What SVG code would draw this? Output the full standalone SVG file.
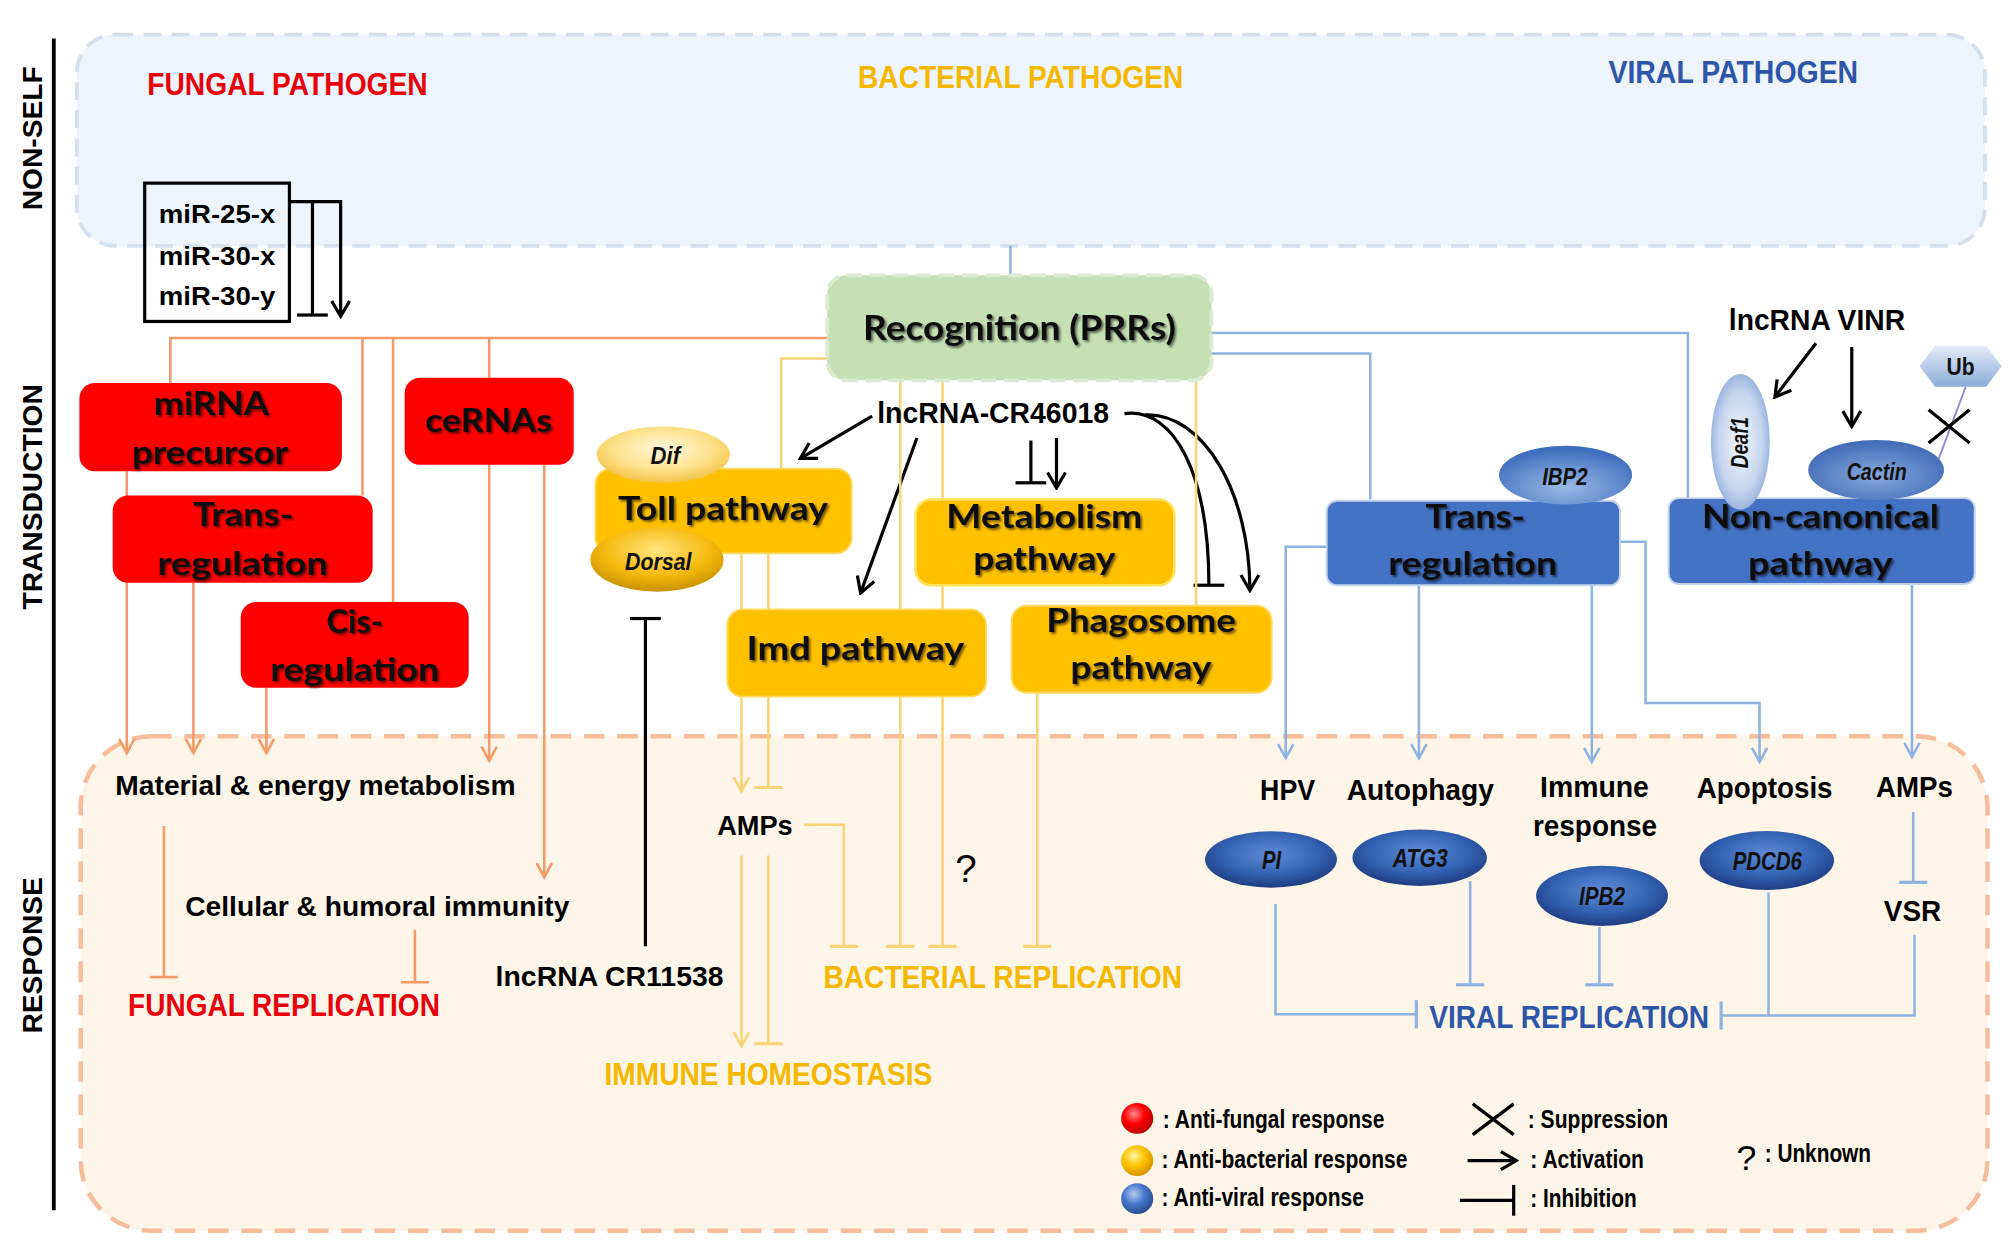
<svg xmlns="http://www.w3.org/2000/svg" width="2008" height="1241" viewBox="0 0 2008 1241">
<defs>
<style>
.t{font-family:"Liberation Sans",Arial,sans-serif;font-weight:bold;fill:#000}
.bx{font-family:Lato,"Open Sans",sans-serif;font-weight:bold;font-size:26px;fill:#111;filter:url(#ts);text-anchor:middle}
.it{font-family:"Liberation Sans",Arial,sans-serif;font-weight:bold;font-style:italic;fill:#111;text-anchor:middle}
.cK{fill:none;stroke:#000;stroke-width:2.5}
.cO{fill:none;stroke:#f29a68;stroke-width:2}
.cY{fill:none;stroke:#f9d477;stroke-width:2}
.cB{fill:none;stroke:#8db3e2;stroke-width:2}
.red{fill:#ff0000}
.yel{fill:#ffc000;stroke:#ffd95a;stroke-width:1.5}
.blu{fill:#4472c4;stroke:#c3d3ea;stroke-width:1.5}
</style>
<filter id="ts" x="-10%" y="-30%" width="120%" height="160%"><feDropShadow dx="1.5" dy="1.5" stdDeviation="0.9" flood-color="#000" flood-opacity="0.55"/></filter>
<marker id="aK" viewBox="-14 -9 16 18" refX="0" refY="0" markerWidth="16" markerHeight="18" orient="auto" markerUnits="userSpaceOnUse"><path d="M-12,-7 L0,0 L-12,7" fill="none" stroke="#000" stroke-width="2.5"/></marker>
<marker id="tK" viewBox="-2 -13 4 26" refX="0" refY="0" markerWidth="4" markerHeight="26" orient="auto" markerUnits="userSpaceOnUse"><path d="M0,-12 L0,12" stroke="#000" stroke-width="2.5"/></marker>
<marker id="aO" viewBox="-14 -9 16 18" refX="0" refY="0" markerWidth="16" markerHeight="18" orient="auto" markerUnits="userSpaceOnUse"><path d="M-11,-6 L0,0 L-11,6" fill="none" stroke="#f29a68" stroke-width="2"/></marker>
<marker id="tO" viewBox="-2 -13 4 26" refX="0" refY="0" markerWidth="4" markerHeight="26" orient="auto" markerUnits="userSpaceOnUse"><path d="M0,-11 L0,11" stroke="#f29a68" stroke-width="2"/></marker>
<marker id="aY" viewBox="-14 -9 16 18" refX="0" refY="0" markerWidth="16" markerHeight="18" orient="auto" markerUnits="userSpaceOnUse"><path d="M-11,-6 L0,0 L-11,6" fill="none" stroke="#f9d477" stroke-width="2"/></marker>
<marker id="tY" viewBox="-2 -13 4 26" refX="0" refY="0" markerWidth="4" markerHeight="26" orient="auto" markerUnits="userSpaceOnUse"><path d="M0,-11 L0,11" stroke="#f9d477" stroke-width="2.5"/></marker>
<marker id="aB" viewBox="-14 -9 16 18" refX="0" refY="0" markerWidth="16" markerHeight="18" orient="auto" markerUnits="userSpaceOnUse"><path d="M-11,-6 L0,0 L-11,6" fill="none" stroke="#8db3e2" stroke-width="2"/></marker>
<marker id="tB" viewBox="-2 -13 4 26" refX="0" refY="0" markerWidth="4" markerHeight="26" orient="auto" markerUnits="userSpaceOnUse"><path d="M0,-11 L0,11" stroke="#8db3e2" stroke-width="2.5"/></marker>
<radialGradient id="gDif" cx="50%" cy="40%" r="60%"><stop offset="0" stop-color="#fff8dc"/><stop offset="0.6" stop-color="#ffe28e"/><stop offset="1" stop-color="#f2c446"/></radialGradient>
<radialGradient id="gDorsal" cx="50%" cy="35%" r="65%"><stop offset="0" stop-color="#ffe680"/><stop offset="0.6" stop-color="#f6bb10"/><stop offset="1" stop-color="#c89200"/></radialGradient>
<radialGradient id="gR" cx="40%" cy="35%" r="65%"><stop offset="0" stop-color="#ff8c8c"/><stop offset="0.5" stop-color="#ff0000"/><stop offset="1" stop-color="#b80000"/></radialGradient>
<radialGradient id="gYb" cx="40%" cy="35%" r="65%"><stop offset="0" stop-color="#fff3a6"/><stop offset="0.5" stop-color="#ffc400"/><stop offset="1" stop-color="#d79800"/></radialGradient>
<radialGradient id="gBb" cx="40%" cy="35%" r="65%"><stop offset="0" stop-color="#b3ccf0"/><stop offset="0.5" stop-color="#4a7ad0"/><stop offset="1" stop-color="#2a4d92"/></radialGradient>
<radialGradient id="gIBP" cx="50%" cy="70%" r="65%"><stop offset="0" stop-color="#9bbbe6"/><stop offset="1" stop-color="#3d6dbd"/></radialGradient>
<radialGradient id="gDeaf" cx="50%" cy="50%" r="60%"><stop offset="0" stop-color="#f4f7fc"/><stop offset="0.6" stop-color="#c6d6ee"/><stop offset="1" stop-color="#7f9fd5"/></radialGradient>
<radialGradient id="gCac" cx="50%" cy="60%" r="65%"><stop offset="0" stop-color="#86a9dd"/><stop offset="1" stop-color="#3965b2"/></radialGradient>
<linearGradient id="gUb" x1="0" y1="0" x2="0" y2="1"><stop offset="0" stop-color="#e3ebf7"/><stop offset="1" stop-color="#8badda"/></linearGradient>
<radialGradient id="gDk" cx="50%" cy="40%" r="60%"><stop offset="0" stop-color="#5f8cd8"/><stop offset="0.6" stop-color="#3463b4"/><stop offset="1" stop-color="#1e3d82"/></radialGradient>
</defs>
<rect x="0" y="0" width="2008" height="1241" fill="#fff"/>
<g transform="scale(1.28061)">
<g id="backgrounds">
<rect x="60" y="27" width="1490" height="165" rx="30" fill="#eef4fb" stroke="#d5e0ee" stroke-width="3" stroke-dasharray="14 8"/>
<rect x="63" y="575" width="1489" height="386" rx="55" fill="#fdf5e7" stroke="#f6bc9c" stroke-width="3.5" stroke-dasharray="16 10"/>
<line x1="42" y1="30" x2="42" y2="945" stroke="#000" stroke-width="3"/>
<text class="t" font-size="22" text-anchor="middle" transform="translate(33,108) rotate(-90)">NON-SELF</text>
<text class="t" font-size="22" text-anchor="middle" transform="translate(33,388) rotate(-90)">TRANSDUCTION</text>
<text class="t" font-size="22" text-anchor="middle" transform="translate(33,746) rotate(-90)">RESPONSE</text>
<text class="t" font-size="25" x="115" y="74" fill="#e8000b" style="fill:#e8000b" textLength="219" lengthAdjust="spacingAndGlyphs">FUNGAL PATHOGEN</text>
<text class="t" font-size="25" x="670" y="69" style="fill:#f5b800" textLength="254" lengthAdjust="spacingAndGlyphs">BACTERIAL PATHOGEN</text>
<text class="t" font-size="25" x="1256" y="65" style="fill:#2e56a8" textLength="195" lengthAdjust="spacingAndGlyphs">VIRAL PATHOGEN</text>
</g>
<g id="connectors">
<path class="cK" d="M226,157.5 H266 V247" marker-end="url(#aK)"/>
<path class="cK" d="M244,157.5 V246" marker-end="url(#tK)"/>
<path class="cK" d="M681,325 L625,358" marker-end="url(#aK)"/>
<path class="cK" d="M716,342 L672,463" marker-end="url(#aK)"/>
<path class="cK" d="M805,344 V377" marker-end="url(#tK)"/>
<path class="cK" d="M825,342 V381" marker-end="url(#aK)"/>
<path class="cK" d="M878,323 C918,318 944,372 944,457" marker-end="url(#tK)"/>
<path class="cK" d="M894,324 C940,322 976,385 976,461" marker-end="url(#aK)"/>
<path class="cK" d="M504,739 V483" marker-end="url(#tK)"/>
<path class="cK" d="M1418,268 L1386,310" marker-end="url(#aK)"/>
<path class="cK" d="M1446,271 V333" marker-end="url(#aK)"/>
<path class="cO" d="M133,300 V264 H646"/>
<path class="cO" d="M283,264 V387"/>
<path class="cO" d="M307,264 V470"/>
<path class="cO" d="M382,264 V295"/>
<path class="cO" d="M99,368 V588" marker-end="url(#aO)"/>
<path class="cO" d="M151,455 V588" marker-end="url(#aO)"/>
<path class="cO" d="M208,537 V588" marker-end="url(#aO)"/>
<path class="cO" d="M382,363 V594" marker-end="url(#aO)"/>
<path class="cO" d="M425,363 V685" marker-end="url(#aO)"/>
<path class="cO" d="M128,645 V763" marker-end="url(#tO)"/>
<path class="cO" d="M324,726 V767" marker-end="url(#tO)"/>
<path class="cY" d="M646,280 H610 V366"/>
<path class="cY" d="M579,432 V618" marker-end="url(#aY)"/>
<path class="cY" d="M600,432 V615" marker-end="url(#tY)"/>
<path class="cY" d="M703,297 V739" marker-end="url(#tY)"/>
<path class="cY" d="M736,297 V739" marker-end="url(#tY)"/>
<path class="cY" d="M934,297 V473"/>
<path class="cY" d="M810,541 V739" marker-end="url(#tY)"/>
<path class="cY" d="M628,644 H659 V739" marker-end="url(#tY)"/>
<path class="cY" d="M579,668 V817" marker-end="url(#aY)"/>
<path class="cY" d="M600,668 V815" marker-end="url(#tY)"/>
<path class="cB" d="M789,192 V215"/>
<path class="cB" d="M946,260 H1318 V389"/>
<path class="cB" d="M946,276 H1070 V390"/>
<path class="cB" d="M1036,427 H1004 V592" marker-end="url(#aB)"/>
<path class="cB" d="M1108,457 V592" marker-end="url(#aB)"/>
<path class="cB" d="M1243,457 V595" marker-end="url(#aB)"/>
<path class="cB" d="M1265,423 H1285 V549 H1374 V595" marker-end="url(#aB)"/>
<path class="cB" d="M1493,455 V591" marker-end="url(#aB)"/>
<path class="cB" d="M1494,634 V689" marker-end="url(#tB)"/>
<path class="cB" d="M996,706 V792 H1106" marker-end="url(#tB)"/>
<path class="cB" d="M1148,688 V769" marker-end="url(#tB)"/>
<path class="cB" d="M1249,724 V769" marker-end="url(#tB)"/>
<path class="cB" d="M1381,697 V793"/>
<path class="cB" d="M1495,730 V793 H1344" marker-end="url(#tB)"/>
<path d="M1535,302 L1514,358" fill="none" stroke="#8a8ad6" stroke-width="1.5"/>
<path class="cK" d="M1506,320 L1538,346 M1538,320 L1506,346"/>
</g>
<g id="mir-box">
<rect x="113" y="143" width="113" height="108" fill="none" stroke="#000" stroke-width="2.5"/>
<text class="t" font-size="20" x="124" y="174" textLength="91" lengthAdjust="spacingAndGlyphs">miR-25-x</text>
<text class="t" font-size="20" x="124" y="207" textLength="91" lengthAdjust="spacingAndGlyphs">miR-30-x</text>
<text class="t" font-size="20" x="124" y="238" textLength="91" lengthAdjust="spacingAndGlyphs">miR-30-y</text>
</g>
<g id="mirna-precursor"><rect class="red" x="62" y="299" width="205" height="69" rx="12"/><text class="bx" x="165" y="324" textLength="90" lengthAdjust="spacingAndGlyphs">miRNA</text><text class="bx" x="164" y="362" textLength="122" lengthAdjust="spacingAndGlyphs">precursor</text></g>
<g id="fungal-trans-regulation"><rect class="red" x="88" y="387" width="203" height="68" rx="12"/><text class="bx" x="190" y="411" textLength="78" lengthAdjust="spacingAndGlyphs">Trans-</text><text class="bx" x="189.5" y="449" textLength="133" lengthAdjust="spacingAndGlyphs">regulation</text></g>
<g id="cis-regulation"><rect class="red" x="188" y="470" width="178" height="67" rx="12"/><text class="bx" x="277" y="494" textLength="44" lengthAdjust="spacingAndGlyphs">Cis-</text><text class="bx" x="277" y="532" textLength="132" lengthAdjust="spacingAndGlyphs">regulation</text></g>
<g id="cernas"><rect class="red" x="316" y="295" width="132" height="68" rx="12"/><text class="bx" x="381.5" y="337" textLength="99" lengthAdjust="spacingAndGlyphs">ceRNAs</text></g>
<g id="recognition"><rect x="646" y="215" width="300" height="82" rx="15" fill="#c5e0b4" stroke="#dcebd2" stroke-width="3" stroke-dasharray="12 6"/><text class="bx" style="font-size:27px" x="796" y="265.5" textLength="244" lengthAdjust="spacingAndGlyphs">Recognition (PRRs)</text></g>
<g id="lncrna-cr46018"><text class="t" font-size="23" x="685" y="330" textLength="181" lengthAdjust="spacingAndGlyphs">lncRNA-CR46018</text></g>
<g id="toll-pathway"><rect class="yel" x="465" y="366" width="200" height="66" rx="12"/><text class="bx" x="564.5" y="406" textLength="164" lengthAdjust="spacingAndGlyphs">Toll pathway</text>
<ellipse cx="518" cy="355" rx="52" ry="22" fill="url(#gDif)"/><text class="it" font-size="18" x="519.5" y="362" textLength="23" lengthAdjust="spacingAndGlyphs">Dif</text>
<ellipse cx="513" cy="437" rx="52" ry="25" fill="url(#gDorsal)"/><text class="it" font-size="18" x="514" y="445" textLength="52" lengthAdjust="spacingAndGlyphs">Dorsal</text></g>
<g id="metabolism-pathway"><rect class="yel" x="715" y="390" width="202" height="67" rx="12" style="stroke:#ffe45c;stroke-width:2"/><text class="bx" x="815.5" y="412" textLength="153" lengthAdjust="spacingAndGlyphs">Metabolism</text><text class="bx" x="815.5" y="445" textLength="111" lengthAdjust="spacingAndGlyphs">pathway</text></g>
<g id="imd-pathway"><rect class="yel" x="568" y="476" width="202" height="68" rx="12"/><text class="bx" x="668" y="515" textLength="170" lengthAdjust="spacingAndGlyphs">Imd pathway</text></g>
<g id="phagosome-pathway"><rect class="yel" x="790" y="473" width="203" height="68" rx="12"/><text class="bx" x="891" y="493.5" textLength="148" lengthAdjust="spacingAndGlyphs">Phagosome</text><text class="bx" x="891" y="530" textLength="110" lengthAdjust="spacingAndGlyphs">pathway</text></g>
<g id="viral-trans-regulation"><rect class="blu" x="1036" y="391" width="229" height="66" rx="8"/>
<ellipse cx="1222.5" cy="371" rx="52" ry="23" fill="url(#gIBP)"/><text class="it" font-size="19" x="1222" y="378.7" textLength="35.5" lengthAdjust="spacingAndGlyphs">IBP2</text>
<text class="bx" x="1152" y="412" textLength="77.5" lengthAdjust="spacingAndGlyphs">Trans-</text><text class="bx" x="1150" y="449" textLength="132" lengthAdjust="spacingAndGlyphs">regulation</text></g>
<g id="non-canonical-pathway"><rect class="blu" x="1303" y="389" width="239" height="67" rx="8"/>
<ellipse cx="1359" cy="345" rx="23" ry="53" fill="url(#gDeaf)"/><text class="it" font-size="18" transform="translate(1365,345.6) rotate(-90)" textLength="40" lengthAdjust="spacingAndGlyphs">Deaf1</text>
<ellipse cx="1465" cy="367" rx="53" ry="23.5" fill="url(#gCac)"/><text class="it" font-size="18" x="1465.5" y="374.8" textLength="47" lengthAdjust="spacingAndGlyphs">Cactin</text>
<text class="bx" x="1421.5" y="412" textLength="185" lengthAdjust="spacingAndGlyphs">Non-canonical</text><text class="bx" x="1421.5" y="449" textLength="113" lengthAdjust="spacingAndGlyphs">pathway</text></g>
<g id="ub"><polygon points="1499,286 1511,270 1551,270 1563,286 1551,302 1511,302" fill="url(#gUb)"/><text class="t" font-size="18" x="1531" y="292.8" text-anchor="middle" style="fill:#111" textLength="22" lengthAdjust="spacingAndGlyphs">Ub</text></g>
<g id="lncrna-vinr"><text class="t" font-size="23" x="1350" y="257.7" textLength="137.6" lengthAdjust="spacingAndGlyphs">lncRNA VINR</text></g>
<g id="fungal-response">
<text class="t" font-size="22" x="90" y="620.7" textLength="312.6" lengthAdjust="spacingAndGlyphs">Material &amp; energy metabolism</text>
<text class="t" font-size="22" x="144.6" y="715" textLength="300" lengthAdjust="spacingAndGlyphs">Cellular &amp; humoral immunity</text>
<text class="t" font-size="24" x="100" y="793" style="fill:#e8000b" textLength="243.5" lengthAdjust="spacingAndGlyphs">FUNGAL REPLICATION</text>
</g>
<g id="lncrna-cr11538"><text class="t" font-size="22" x="387" y="770" textLength="178" lengthAdjust="spacingAndGlyphs">lncRNA CR11538</text></g>
<g id="bacterial-response">
<text class="t" font-size="22" x="560" y="651.7" textLength="59" lengthAdjust="spacingAndGlyphs">AMPs</text>
<text x="746" y="689" font-family="Liberation Sans, Arial, sans-serif" font-size="30" fill="#000">?</text>
<text class="t" font-size="24" x="643" y="771.6" style="fill:#f5b800" textLength="280" lengthAdjust="spacingAndGlyphs">BACTERIAL REPLICATION</text>
<text class="t" font-size="24" x="472" y="847" style="fill:#f5b800" textLength="256" lengthAdjust="spacingAndGlyphs">IMMUNE HOMEOSTASIS</text>
</g>
<g id="viral-response">
<text class="t" font-size="23" x="984" y="624.7" textLength="43" lengthAdjust="spacingAndGlyphs">HPV</text>
<text class="t" font-size="23" x="1051.6" y="624.7" textLength="115" lengthAdjust="spacingAndGlyphs">Autophagy</text>
<text class="t" font-size="23" x="1202.6" y="622" textLength="85" lengthAdjust="spacingAndGlyphs">Immune</text>
<text class="t" font-size="23" x="1197" y="653" textLength="97" lengthAdjust="spacingAndGlyphs">response</text>
<text class="t" font-size="23" x="1325" y="623.4" textLength="106" lengthAdjust="spacingAndGlyphs">Apoptosis</text>
<text class="t" font-size="23" x="1465" y="622" textLength="60" lengthAdjust="spacingAndGlyphs">AMPs</text>
<ellipse cx="992.5" cy="671.2" rx="51.5" ry="22" fill="url(#gDk)"/><text class="it" font-size="20" x="993" y="678.6" textLength="15" lengthAdjust="spacingAndGlyphs">PI</text>
<ellipse cx="1108.6" cy="669.8" rx="52.5" ry="22" fill="url(#gDk)"/><text class="it" font-size="20" x="1109" y="677" textLength="43" lengthAdjust="spacingAndGlyphs">ATG3</text>
<ellipse cx="1251" cy="699.5" rx="51.5" ry="23.5" fill="url(#gDk)"/><text class="it" font-size="20" x="1251" y="706.5" textLength="36" lengthAdjust="spacingAndGlyphs">IPB2</text>
<ellipse cx="1379.7" cy="671.9" rx="52.5" ry="23" fill="url(#gDk)"/><text class="it" font-size="20" x="1380" y="679" textLength="54" lengthAdjust="spacingAndGlyphs">PDCD6</text>
<text class="t" font-size="23" x="1471" y="719" textLength="44.8" lengthAdjust="spacingAndGlyphs">VSR</text>
<text class="t" font-size="24" x="1116" y="802.6" style="fill:#2e56a8" textLength="218.6" lengthAdjust="spacingAndGlyphs">VIRAL REPLICATION</text>
</g>
<g id="legend">
<ellipse cx="888" cy="873.4" rx="12.5" ry="12" fill="url(#gR)"/>
<ellipse cx="888" cy="906.3" rx="12.5" ry="12" fill="url(#gYb)"/>
<ellipse cx="888" cy="936" rx="12.5" ry="12" fill="url(#gBb)"/>
<text class="t" font-size="20" x="908" y="881" textLength="173" lengthAdjust="spacingAndGlyphs">: Anti-fungal response</text>
<text class="t" font-size="20" x="907" y="911.7" textLength="192" lengthAdjust="spacingAndGlyphs">: Anti-bacterial response</text>
<text class="t" font-size="20" x="907" y="941.4" textLength="158" lengthAdjust="spacingAndGlyphs">: Anti-viral response</text>
<path class="cK" d="M1150,862 L1182,886 M1182,862 L1150,886"/>
<path class="cK" d="M1146,906.3 H1184" marker-end="url(#aK)"/>
<path class="cK" d="M1140,937.3 H1182" marker-end="url(#tK)"/>
<text class="t" font-size="20" x="1193" y="880.7" textLength="109.6" lengthAdjust="spacingAndGlyphs">: Suppression</text>
<text class="t" font-size="20" x="1195" y="911.7" textLength="88.7" lengthAdjust="spacingAndGlyphs">: Activation</text>
<text class="t" font-size="20" x="1195" y="942.7" textLength="83" lengthAdjust="spacingAndGlyphs">: Inhibition</text>
<text x="1356" y="914" font-family="Liberation Sans, Arial, sans-serif" font-size="28" fill="#000">?</text>
<text class="t" font-size="20" x="1378" y="907.7" textLength="83" lengthAdjust="spacingAndGlyphs">: Unknown</text>
</g>
</g>
</svg>
